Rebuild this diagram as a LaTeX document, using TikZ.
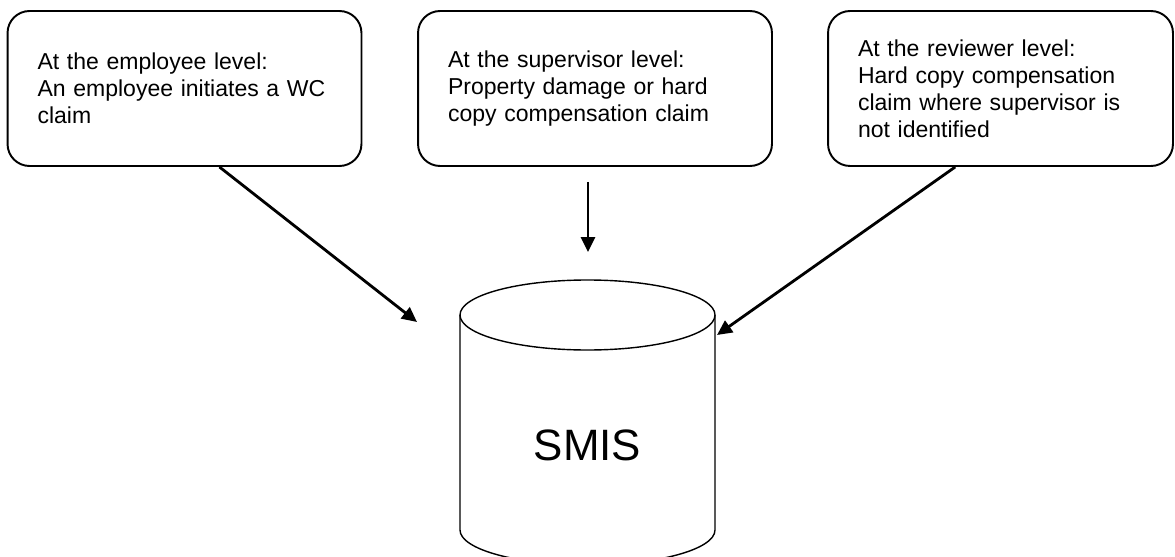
\documentclass[tikz,border=0pt]{standalone}
\usepackage{fontspec}
\setmainfont{Liberation Sans}
\usetikzlibrary{arrows.meta}
\begin{document}
\begin{tikzpicture}[x=0.02cm, y=0.02cm, level/.style={draw,line width=1.1pt,rounded corners=0.44cm,text width=5.88cm,inner xsep=0.6cm,minimum height=3.1cm,align=left,font=\fontsize{13.1}{15.4}\selectfont}, link/.style={-{Triangle[length=0.3cm,width=0.28cm]},line width=1.6pt}]
       \useasboundingbox (0,0) rectangle (1175,-557);
       \clip (0,0) rectangle (1175,-557);
       \node[level] (1) at (184.5,-88.5) {At the employee level:\\An employee initiates a WC\\claim};
       \node[level] (2) at (595,-88.5) {At the supervisor level:\\Property damage or hard\\copy compensation claim};
       \node[level,text width=5.7cm] (3) at (1000.5,-88.5) {At the reviewer level:\\Hard copy compensation\\claim where supervisor is\\not identified};

       % the database
       \draw[line width=0.8pt] (587.5,-315) ellipse [x radius=127.5, y radius=35];
       \draw[line width=0.8pt] (460,-315) -- (460,-530) arc[start angle=180, end angle=360, x radius=127.5, y radius=35] -- (715,-315);
       \node[font=\fontsize{25}{30}\selectfont] (4) at (587.5,-445) {SMIS};

       \coordinate (5) at (417,-322);
       \coordinate (6) at (588,-182);
       \coordinate (7) at (588,-252);
       \coordinate (8) at (717,-335);
       \draw[link] (1.-66) -- (5);
       \draw[link] (6) -- (7);
       \draw[link] (3.-120) -- (8);
     \end{tikzpicture}
\end{document}
